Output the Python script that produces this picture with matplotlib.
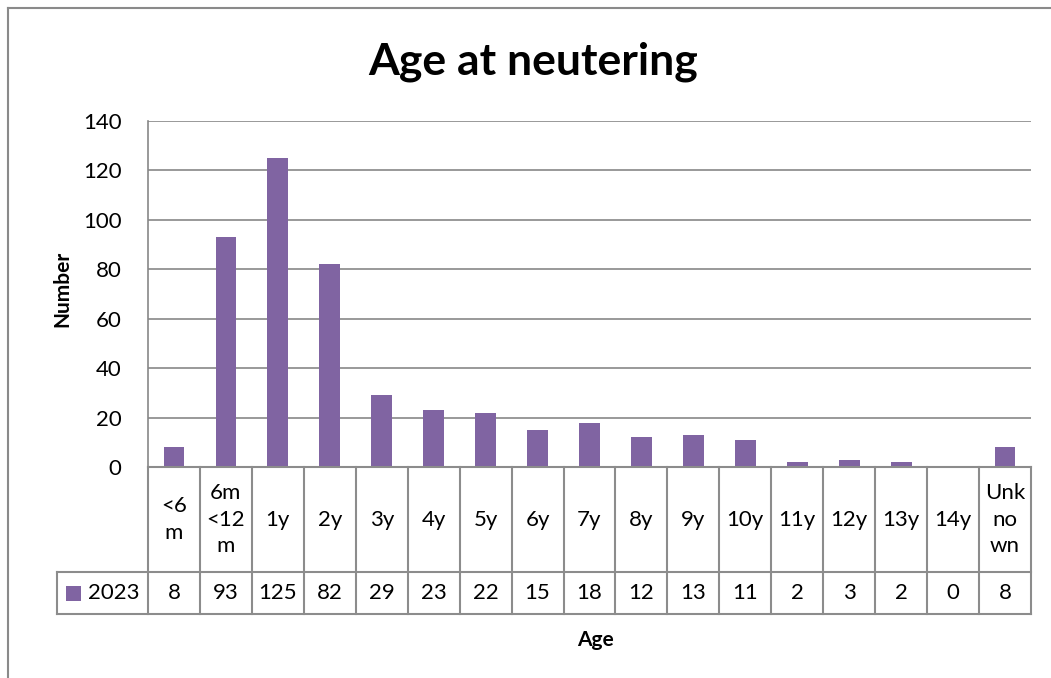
import matplotlib
matplotlib.use("Agg")
import matplotlib.pyplot as plt
from matplotlib import transforms
from matplotlib.lines import Line2D
from matplotlib.patches import Rectangle

categories = ["<6\nm", "6m\n<12\nm", "1y", "2y", "3y", "4y", "5y", "6y", "7y", "8y",
              "9y", "10y", "11y", "12y", "13y", "14y", "Unk\nno\nwn"]
values_2023 = [8, 93, 125, 82, 29, 23, 22, 15, 18, 12, 13, 11, 2, 3, 2, 0, 8]
series_name = "2023"
yticks = [0, 20, 40, 60, 80, 100, 120, 140]

W, H = 1051, 678
BAR = "#8064A2"
GRID = "#878787"
FONT = "Lato"
FS = 16

fig = plt.figure(figsize=(W / 100, H / 100), dpi=100)
fig.patch.set_facecolor("white")

def fx(x):
    return x / W

def fy(y):
    return 1 - y / H

left, right, top, bottom = 148, 1031, 121, 467
ax = fig.add_axes([fx(left), fy(bottom), fx(right - left), (bottom - top) / H])

n = len(categories)
xs = list(range(n))
ax.bar(xs, values_2023, width=0.4, color=BAR, zorder=3)
ax.set_xlim(-0.5, n - 0.5)
ax.set_ylim(0, 140)
ax.set_yticks(yticks)
ax.set_yticklabels([str(t) for t in yticks], fontsize=FS, family=FONT)
ax.tick_params(axis="y", length=0, pad=19)
ax.set_xticks([])
ax.grid(axis="y", color=GRID, linewidth=1.2, zorder=0)
for s in ["top", "right", "bottom"]:
    ax.spines[s].set_visible(False)
ax.spines["left"].set_color(GRID)
ax.spines["left"].set_linewidth(1.2)

# data table below the plot
tr = transforms.blended_transform_factory(ax.transData, fig.transFigure)
y0, y1, y2 = bottom, 572, 614
lw = 1.5
tc = "#8c8c8c"
fig.add_artist(Line2D([-0.5, n - 0.5], [fy(y0), fy(y0)], transform=tr, color=tc, lw=lw))
fig.add_artist(Line2D([fx(57), fx(right)], [fy(y1), fy(y1)], transform=fig.transFigure, color=tc, lw=lw))
fig.add_artist(Line2D([fx(57), fx(right)], [fy(y2), fy(y2)], transform=fig.transFigure, color=tc, lw=lw))
fig.add_artist(Line2D([fx(57), fx(57)], [fy(y1), fy(y2)], transform=fig.transFigure, color=tc, lw=lw))
for i in range(n + 1):
    xb = i - 0.5
    fig.add_artist(Line2D([xb, xb], [fy(y0), fy(y2)], transform=tr, color=tc, lw=lw))
for i, (c, v) in enumerate(zip(categories, values_2023)):
    fig.text(i, fy((y0 + y1) / 2), c, transform=tr, ha="center", va="center",
             fontsize=FS, family=FONT, linespacing=1.4)
    fig.text(i, fy((y1 + y2) / 2), str(v), transform=tr, ha="center", va="center",
             fontsize=FS, family=FONT)
# legend cell
fig.add_artist(Rectangle((fx(66), fy(601)), fx(15), 15 / H, transform=fig.transFigure,
                         facecolor=BAR, edgecolor="none"))
fig.text(fx(88), fy((y1 + y2) / 2), series_name, ha="left", va="center", fontsize=FS, family=FONT)

# titles
fig.text(fx(533), fy(62), "Age at neutering", ha="center", va="center",
         fontsize=32, fontweight="bold", family=FONT)
fig.text(fx(62), fy(289), "Number", ha="center", va="center", rotation=90,
         fontsize=15, fontweight="bold", family=FONT)
fig.text(fx(595), fy(640), "Age", ha="center", va="center",
         fontsize=15, fontweight="bold", family=FONT)

# chart frame
fc = "#8a8a8a"
fig.add_artist(Line2D([fx(8), fx(8)], [fy(8), 0], transform=fig.transFigure, color=fc, lw=1.5))
fig.add_artist(Line2D([fx(8), 1], [fy(8), fy(8)], transform=fig.transFigure, color=fc, lw=1.5))

fig.savefig("out.png", dpi=100)
